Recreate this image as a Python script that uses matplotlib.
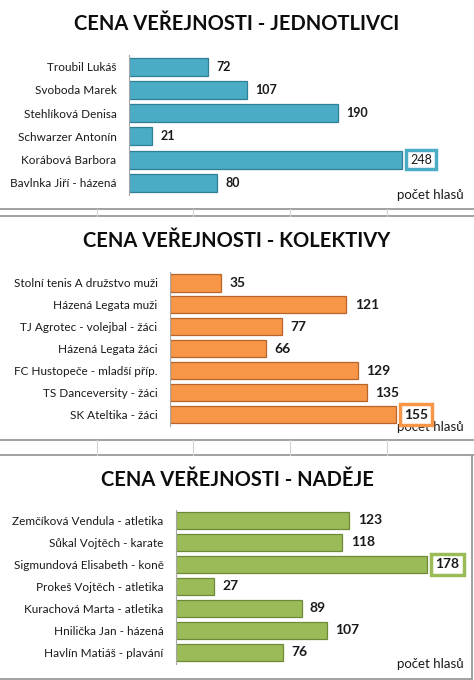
import matplotlib.pyplot as plt

plt.rcParams['font.family'] = ['Lato', 'DejaVu Sans']

# Data
jed_names = ["Troubil Lukáš", "Svoboda Marek", "Stehlíková Denisa", "Schwarzer Antonín",
             "Korábová Barbora", "Bavlnka Jiří - házená"]
jed_votes = [72, 107, 190, 21, 248, 80]

kol_names = ["Stolní tenis A družstvo muži", "Házená Legata muži", "TJ Agrotec - volejbal - žáci",
             "Házená Legata žáci", "FC Hustopeče - mladší příp.", "TS Danceversity - žáci",
             "SK Ateltika - žáci"]
kol_votes = [35, 121, 77, 66, 129, 135, 155]

nad_names = ["Zemčíková Vendula - atletika", "Sůkal Vojtěch - karate", "Sigmundová Elisabeth - koně",
             "Prokeš Vojtěch - atletika", "Kurachová Marta - atletika", "Hnilička Jan - házená",
             "Havlín Matiáš - plavání"]
nad_votes = [123, 118, 178, 27, 89, 107, 76]

titles = ["CENA VEŘEJNOSTI - JEDNOTLIVCI", "CENA VEŘEJNOSTI - KOLEKTIVY", "CENA VEŘEJNOSTI - NADĚJE"]
xlabel = "počet hlasů"

W, H = 474, 680
fig = plt.figure(figsize=(W / 100, H / 100), dpi=100)

# background axes in pixel coordinates for the sheet lines and titles
bg = fig.add_axes([0, 0, 1, 1])
bg.set_xlim(0, W)
bg.set_ylim(H, 0)
bg.axis('off')


def px_axes(left, top, right, bottom):
    return fig.add_axes([left / W, 1 - bottom / H, (right - left) / W, (bottom - top) / H])


panels = [
    # names, votes, color, edge, box bold, rect, xmax, title y, label y, value size
    (jed_names, jed_votes, '#4BACC6', '#2F7F95', False, (129, 55, 459, 194.5), 300, 24, 195, 9),
    (kol_names, kol_votes, '#F79646', '#B7652A', True, (170, 272, 460, 425.5), 199, 241, 427, 10),
    (nad_names, nad_votes, '#9BBB59', '#6E8A37', True, (176, 509.5, 460, 663.5), 201.4, 480, 664, 10),
]

for i, (names, votes, color, edge, boxbold, rect, xmax, ty, ly, vs) in enumerate(panels):
    ax = px_axes(*rect)
    y = list(range(len(names)))
    ax.barh(y, votes, height=0.78, color=color, edgecolor=edge, linewidth=0.9)
    ax.set_xlim(0, xmax)
    ax.set_ylim(len(names) - 0.5, -0.5)
    ax.set_yticks(y)
    ax.set_yticklabels(names, fontsize=8.5, color='#1a1a1a')
    ax.tick_params(axis='y', length=0, pad=9)
    ax.set_xticks([])
    for s in ['top', 'right', 'bottom']:
        ax.spines[s].set_visible(False)
    ax.spines['left'].set_color('#A6A6A6')
    ax.spines['left'].set_linewidth(0.8)
    ax.patch.set_alpha(0)

    top = max(votes)
    for yy, v in zip(y, votes):
        if v == top:
            ax.annotate(str(v), xy=(v, yy), xytext=(6, 0), textcoords='offset points',
                        va='center', ha='left', fontsize=vs,
                        fontweight='bold' if boxbold else 'normal', color='#1a1a1a',
                        bbox=dict(boxstyle='square,pad=0.3', fc='white', ec=color, lw=2.5))
        else:
            ax.annotate(str(v), xy=(v, yy), xytext=(6, 0), textcoords='offset points',
                        va='center', ha='left', fontsize=vs, fontweight='bold', color='#1a1a1a')

    bg.text(237, ty, titles[i], ha='center', va='center', fontsize=14.5, fontweight='bold', color='#0d0d0d')
    bg.text(464, ly, xlabel, ha='right', va='center', fontsize=9.5, color='#1a1a1a')

# spreadsheet cell lines between the charts
for y1, y2 in [(209, 216), (440, 454.5)]:
    bg.plot([0, W], [y1, y1], color='#9A9A9A', lw=1.3)
    bg.plot([0, W], [y2, y2], color='#9A9A9A', lw=1.3)
    for xv in [97, 193, 290, 387]:
        bg.plot([xv, xv], [y1, y2], color='#D4D4D4', lw=0.8)

# border of the last chart
bg.plot([472.5, 472.5], [454.5, 679], color='#9A9A9A', lw=1.3)
bg.plot([0, 472.5], [679, 679], color='#9A9A9A', lw=1.3)

fig.savefig('out.png', dpi=100)
